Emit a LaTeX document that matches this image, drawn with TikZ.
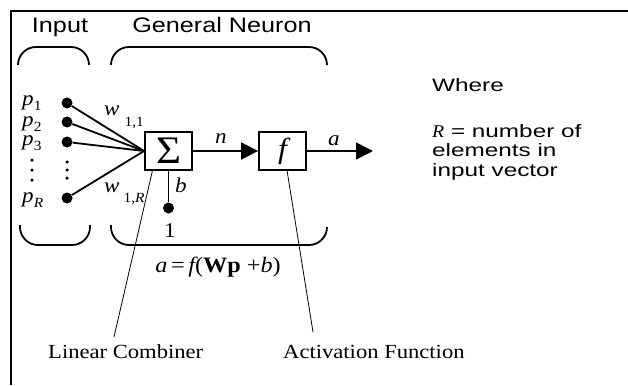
\documentclass[tikz,border=0pt]{standalone}
\usepackage{fontspec}
\usetikzlibrary{arrows.meta}
\newfontfamily\headfont[FakeStretch=1.2]{Liberation Sans}
\newfontfamily\notefont[FakeStretch=1.35]{Liberation Sans}
\newfontfamily\capfont[FakeStretch=1.13]{Liberation Serif}
\newfontfamily\symfont[FakeStretch=1.1]{Liberation Serif}
\newcommand{\lowsub}[2]{\raisebox{#1}{\fontsize{14}{14}\selectfont #2}}

\begin{document}
\begin{tikzpicture}[x=1pt, y=1pt]
    % Define styles
    \tikzstyle{box} = [rectangle, minimum width=47pt, minimum height=38pt, draw=black, line width=1.8pt, inner sep=0pt]
    \tikzstyle{dot} = [circle, fill=black, inner sep=0pt, minimum size=11pt]
    \tikzstyle{vdot} = [circle, fill=black, inner sep=0pt, minimum size=3.5pt]
    \tikzstyle{wire} = [line width=1.8pt]
    \tikzstyle{flow} = [wire, -{Triangle[length=17pt, width=17pt]}]
    \tikzstyle{brace} = [line width=1.8pt, rounded corners=18pt]
    \tikzstyle{pointer} = [line width=0.8pt]
    \tikzstyle{sym} = [inner sep=0pt, anchor=base, font=\symfont\itshape\fontsize{21}{25}\selectfont]
    \tikzstyle{head} = [inner sep=0pt, anchor=base, font=\headfont\fontsize{21}{25}\selectfont]
    \tikzstyle{note} = [inner sep=0pt, anchor=base west, font=\notefont\fontsize{18}{21}\selectfont]
    \tikzstyle{caption} = [inner sep=0pt, anchor=base west, font=\capfont\fontsize{20}{24}\selectfont]

    \useasboundingbox (0,0) rectangle (628,-385);

    % Frame
    \draw[line width=2.2pt] (11,-385) -- (11,-11) -- (628,-11);

    % Headings and braces
    \node[head] (inhead) at (60,-33) {Input};
    \node[head] (neuhead) at (222,-33) {General Neuron};
    \draw[brace] (18,-65) -- (18,-47) -- (89,-47) -- (89,-65);
    \draw[brace] (111,-65) -- (111,-47) -- (327,-47) -- (327,-65);
    \draw[brace] (20,-225) -- (20,-245) -- (90,-245) -- (90,-225);
    \draw[brace] (111,-225) -- (111,-245) -- (327,-245) -- (327,-227);

    % Inputs
    \node[sym, anchor=base west] (p1) at (22,-106) {p\lowsub{-5pt}{\upshape 1}};
    \node[sym, anchor=base west] (p2) at (22,-126) {p\lowsub{-5pt}{\upshape 2}};
    \node[sym, anchor=base west] (p3) at (22,-145) {p\lowsub{-5pt}{\upshape 3}};
    \node[sym, anchor=base west] (pR) at (22,-202) {p\lowsub{-5pt}{R}};
    \node[dot] (d1) at (67,-103) {};
    \node[dot] (d2) at (67,-122) {};
    \node[dot] (d3) at (67,-142) {};
    \node[dot] (dR) at (67,-198) {};
    \foreach \y in {160,170,180}
        \node[vdot] (pv\y) at (32,-\y) {};
    \foreach \y in {162,170,178}
        \node[vdot] (dv\y) at (67,-\y) {};

    % Neuron
    \node[box, font=\symfont\fontsize{39}{39}\selectfont] (sum) at (168.5,-151) {Σ};
    \node[box, font=\symfont\itshape\fontsize{29}{29}\selectfont] (act) at (282.5,-151) {f};
    \node[dot] (one) at (168.5,-208) {};
    \coordinate (out) at (373,-151);

    \draw[wire] (d1) -- (sum.west);
    \draw[wire] (d2) -- (sum.west);
    \draw[wire] (d3) -- (sum.west);
    \draw[wire] (dR) -- (sum.west);
    \draw[wire] (sum.south) -- (one);
    \draw[flow] (sum.east) -- (act.west);
    \draw[flow] (act.east) -- (out);

    \node[sym, anchor=base west] (w11) at (104,-115) {w\hspace{5pt}\lowsub{-11pt}{\upshape 1,1}};
    \node[sym, anchor=base west] (w1R) at (104,-192) {w\hspace{4pt}\lowsub{-10pt}{\upshape 1,\itshape R}};
    \node[sym] (nlab) at (221,-143) {n};
    \node[sym] (alab) at (334,-145) {a};
    \node[sym] (blab) at (181,-192) {b};
    \node[sym] (onelab) at (170,-237) {\upshape 1};
    \node[sym, font=\symfont\itshape\fontsize{22}{26}\selectfont] (eq) at (218,-272)
        {a\,{\upshape =}\,f{\upshape (}{\upshape\bfseries Wp} {\upshape +}b{\upshape )}};

    % Where
    \node[note] (where) at (432,-92) {Where};
    \node[note] (rdef1) at (432,-137) {{\symfont\itshape R} = number of};
    \node[note] (rdef2) at (432,-156) {elements in};
    \node[note] (rdef3) at (432,-176) {input vector};

    % Captions
    \node[caption] (lc) at (48,-358) {Linear Combiner};
    \node[caption] (af) at (283,-358) {Activation Function};
    \coordinate (lcend) at (114,-337);
    \coordinate (afend) at (313,-332);
    \draw[pointer] (sum.-129) -- (lcend);
    \draw[pointer] (act.-77) -- (afend);

\end{tikzpicture}
\end{document}
